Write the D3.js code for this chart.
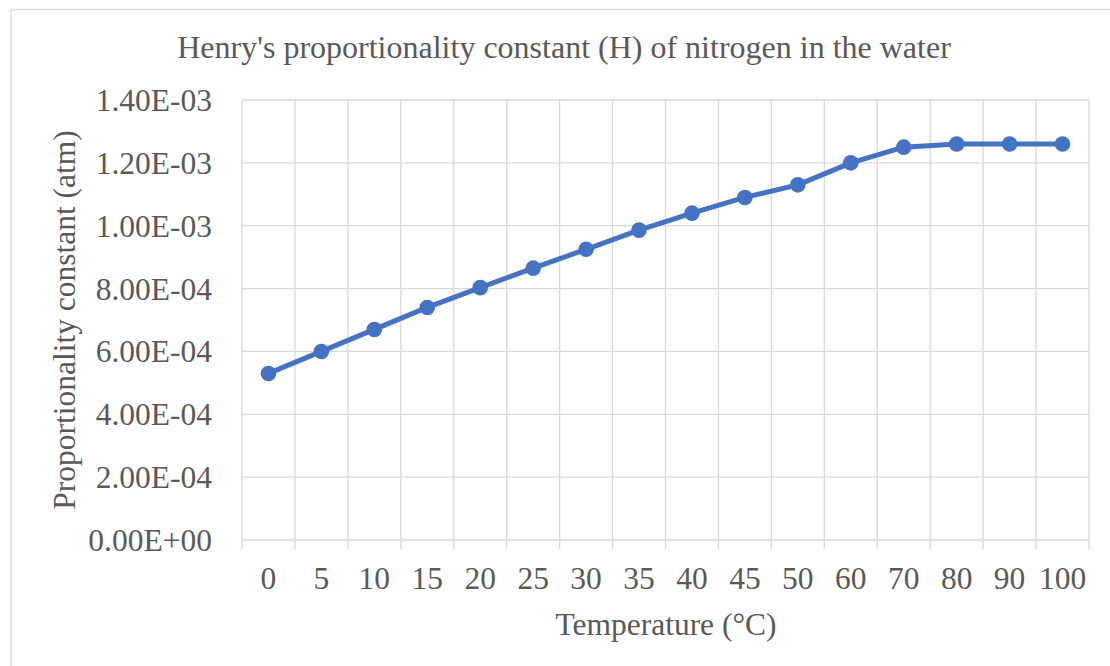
<!DOCTYPE html>
<html><head><meta charset="utf-8">
<script src="https://cdn.jsdelivr.net/npm/d3@7"></script>
<style>body{margin:0;background:#fff;} svg{display:block;}</style>
</head><body>
<script>
const categories = ["0","5","10","15","20","25","30","35","40","45","50","60","70","80","90","100"];
const values = [5.3e-4,6.0e-4,6.7e-4,7.4e-4,8.03e-4,8.65e-4,9.25e-4,9.86e-4,1.04e-3,1.09e-3,1.13e-3,1.20e-3,1.25e-3,1.26e-3,1.26e-3,1.26e-3];
const yTicks = [0,2e-4,4e-4,6e-4,8e-4,1e-3,1.2e-3,1.4e-3];
const title = "Henry's proportionality constant (H) of nitrogen in the water";
const xTitle = "Temperature (°C)";
const yTitle = "Proportionality constant (atm)";

const W=1110,H=666;
const L=242,R=1089,T=100,B=540;
const font="'Liberation Serif','Times New Roman',serif";
const txt="#595959", grid="#d9d9d9", blue="#4472c4";
const fs=31.5;

const svg=d3.select("body").append("svg").attr("width",W).attr("height",H);
svg.append("rect").attr("x",11).attr("y",9.5).attr("width",W).attr("height",H).attr("fill","#fff").attr("stroke","#d9d9d9").attr("stroke-width",1.3);

const x=d3.scaleBand().domain(categories).range([L,R]);
const y=d3.scaleLinear().domain([0,1.4e-3]).range([B,T]);

svg.append("g").selectAll("line").data(yTicks).join("line")
 .attr("x1",L).attr("x2",R).attr("y1",d=>y(d)).attr("y2",d=>y(d))
 .attr("stroke",grid).attr("stroke-width",1.3);
const bounds=categories.map(c=>x(c)).concat([R]);
svg.append("g").selectAll("line").data(bounds).join("line")
 .attr("x1",d=>d).attr("x2",d=>d).attr("y1",T).attr("y2",B+9)
 .attr("stroke",grid).attr("stroke-width",1.3);

svg.append("g").selectAll("text").data(yTicks).join("text")
 .attr("x",L-30).attr("y",d=>y(d)).attr("dy","0.35em").attr("text-anchor","end")
 .attr("font-family",font).attr("font-size",fs).attr("fill",txt)
 .text(d=>d.toExponential(2).replace(/e([+-])(\d)$/,"E$10$2").replace("e","E"));
svg.append("g").selectAll("text").data(categories).join("text")
 .attr("x",d=>x(d)+x.bandwidth()/2).attr("y",578).attr("dy","0.35em").attr("text-anchor","middle")
 .attr("font-family",font).attr("font-size",fs).attr("fill",txt).text(d=>d);

const pts=categories.map((c,i)=>[x(c)+x.bandwidth()/2,y(values[i])]);
svg.append("path").attr("d",d3.line()(pts)).attr("fill","none").attr("stroke",blue).attr("stroke-width",5).attr("stroke-linejoin","round");
svg.append("g").selectAll("circle").data(pts).join("circle")
 .attr("cx",d=>d[0]).attr("cy",d=>d[1]).attr("r",7.8).attr("fill",blue);

svg.append("text").attr("x",564).attr("y",47).attr("dy","0.35em").attr("text-anchor","middle")
 .attr("font-family",font).attr("font-size",32).attr("fill",txt).text(title);
svg.append("text").attr("x",666).attr("y",624).attr("dy","0.35em").attr("text-anchor","middle")
 .attr("font-family",font).attr("font-size",fs).attr("fill",txt).text(xTitle);
svg.append("text").attr("transform","translate(64,320) rotate(-90)").attr("dy","0.35em").attr("text-anchor","middle")
 .attr("font-family",font).attr("font-size",fs).attr("fill",txt).text(yTitle);
</script>
</body></html>
